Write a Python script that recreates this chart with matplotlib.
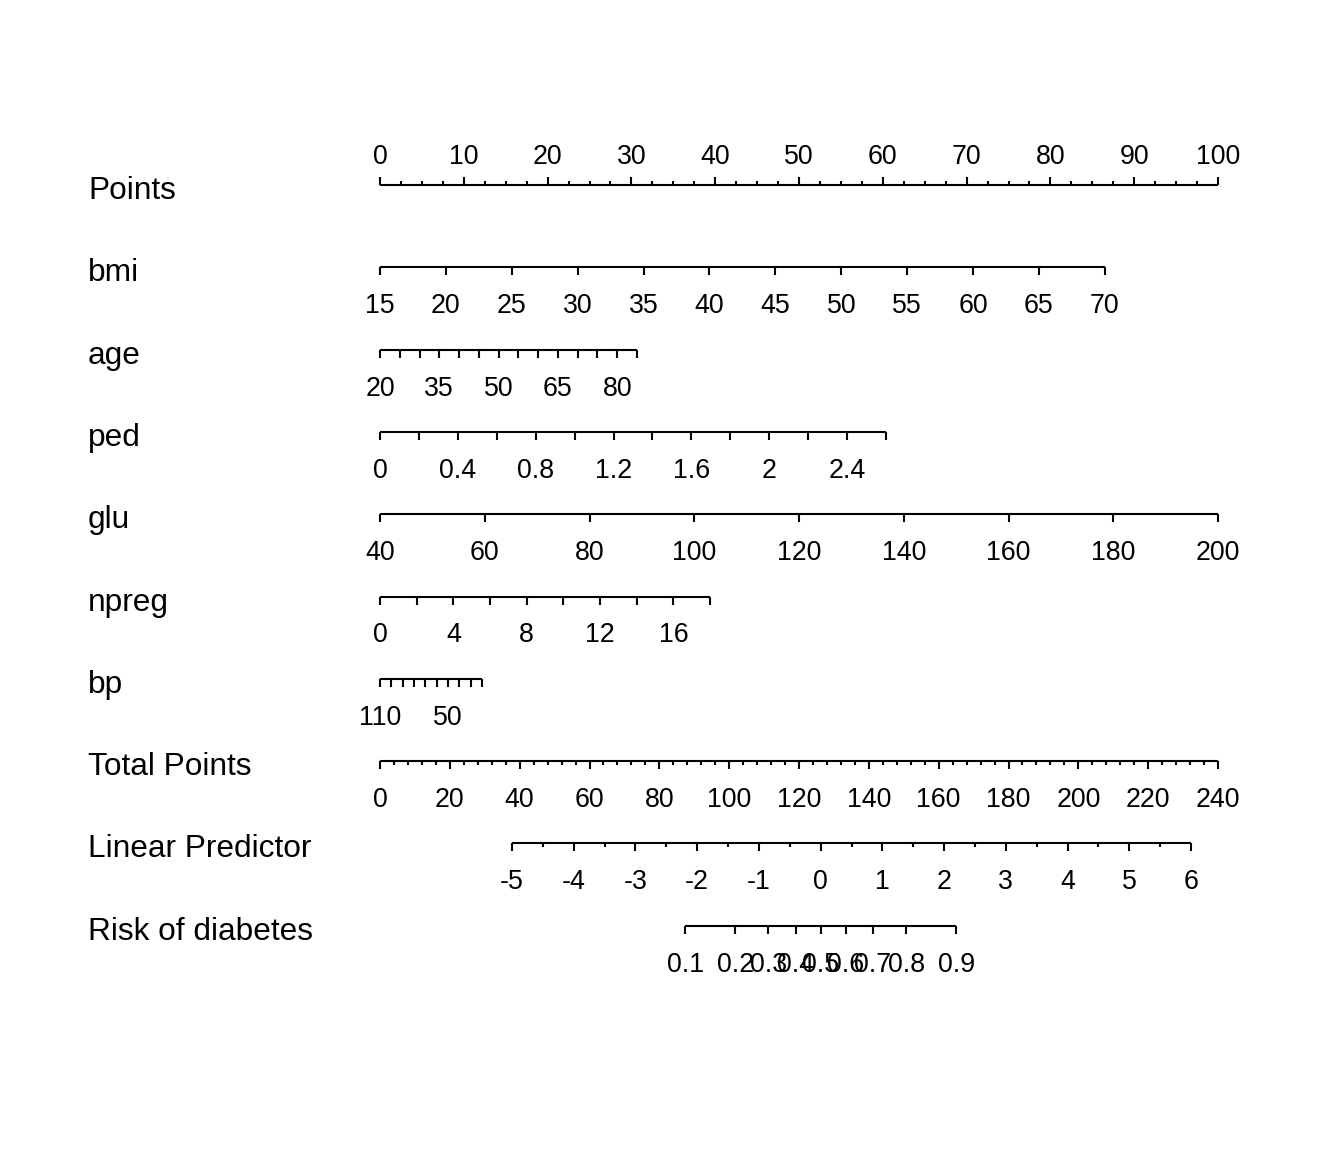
import numpy as np
import matplotlib
matplotlib.use("Agg")
import matplotlib.pyplot as plt

plt.rcParams['font.family'] = ['Liberation Sans', 'DejaVu Sans']

# ---- nomogram data ----
points_ticks = np.arange(0, 100.1, 2.5)
points_labels = np.arange(0, 101, 10)

bmi_ticks = np.arange(15, 71, 5)
bmi_labels = bmi_ticks
bmi_ref, bmi_slope = 15, 86.5 / 55

age_ticks = np.arange(20, 86, 5)
age_labels = np.array([20, 35, 50, 65, 80])
age_ref, age_slope = 20, 30.67 / 65

ped_ticks = np.round(np.arange(0, 2.61, 0.2), 1)
ped_labels = np.array([0, 0.4, 0.8, 1.2, 1.6, 2, 2.4])
ped_ref, ped_slope = 0, 60.38 / 2.6

glu_ticks = np.arange(40, 201, 20)
glu_labels = glu_ticks
glu_ref, glu_slope = 40, 100 / 160

npreg_ticks = np.arange(0, 19, 2)
npreg_labels = np.array([0, 4, 8, 12, 16])
npreg_ref, npreg_slope = 0, 39.38 / 18

bp_ticks = np.arange(110, 19, -10)
bp_labels = np.array([110, 50])
bp_ref, bp_slope = 110, -12.17 / 90

total_ticks = np.arange(0, 241, 4)
total_labels = np.arange(0, 241, 20)
total_max = 240

lp_ticks = np.arange(-5, 6.01, 0.5)
lp_labels = np.arange(-5, 7, 1)
lp_at_tp, tp_lp_ref, tp_per_lp = -5, 37.8, 17.68

risk_ticks = np.round(np.arange(0.1, 0.91, 0.1), 1)
risk_labels = risk_ticks

names = ['Points', 'bmi', 'age', 'ped', 'glu', 'npreg', 'bp',
         'Total Points', 'Linear Predictor', 'Risk of diabetes']

# ---- layout (pixels) ----
W, H = 1344, 1152
x0_px, x100_px = 380, 1218
row0_px, row_gap = 185, 82.3
name_x_px = 88
NAME_FS = 22.8
TICK_FS = 19.3
LW = 1.5

fig = plt.figure(figsize=(W / 100, H / 100), dpi=100)
ax = fig.add_axes([0, 0, 1, 1])
pxpp = (x100_px - x0_px) / 100.0
ax.set_xlim(-x0_px / pxpp, (W - x0_px) / pxpp)
ax.set_ylim(H, 0)
ax.axis('off')


def fmt(v):
    s = ('%.2f' % v).rstrip('0').rstrip('.')
    return '0' if s == '-0' else s


def draw_scale(row, tick_pts, major_mask, label_pts, label_txt, above=False):
    y = row0_px + row * row_gap
    ax.plot([tick_pts.min(), tick_pts.max()], [y, y], color='black', lw=LW,
            solid_capstyle='butt')
    d = -1 if above else 1
    for p, m in zip(tick_pts, major_mask):
        ln = 8 if m else 4
        ax.plot([p, p], [y, y + d * ln], color='black', lw=LW, solid_capstyle='butt')
    ly = y - 21 if above else y + 46
    for p, t in zip(label_pts, label_txt):
        ax.text(p, ly, t, ha='center', va='baseline', fontsize=TICK_FS)
    ax.text(-(x0_px - name_x_px) / pxpp, y + 14, names[row], ha='left',
            va='baseline', fontsize=NAME_FS)


# Points
draw_scale(0, points_ticks, np.isclose(points_ticks % 10, 0),
           points_labels, [fmt(v) for v in points_labels], above=True)


def var_scale(row, ticks, labels, ref, slope):
    tp = (ticks - ref) * slope
    lp = (labels - ref) * slope
    draw_scale(row, tp, np.ones(len(ticks), bool), lp, [fmt(v) for v in labels])


var_scale(1, bmi_ticks, bmi_labels, bmi_ref, bmi_slope)
var_scale(2, age_ticks, age_labels, age_ref, age_slope)
var_scale(3, ped_ticks, ped_labels, ped_ref, ped_slope)
var_scale(4, glu_ticks, glu_labels, glu_ref, glu_slope)
var_scale(5, npreg_ticks, npreg_labels, npreg_ref, npreg_slope)
var_scale(6, bp_ticks, bp_labels, bp_ref, bp_slope)

# Total points
to_pts = 100.0 / total_max
draw_scale(7, total_ticks * to_pts, np.isclose(total_ticks % 20, 0),
           total_labels * to_pts, [fmt(v) for v in total_labels])


def lp_to_pts(lp):
    return (tp_lp_ref + (lp - lp_at_tp) * tp_per_lp) * to_pts


draw_scale(8, lp_to_pts(lp_ticks), np.isclose(lp_ticks % 1, 0),
           lp_to_pts(lp_labels), [fmt(v) for v in lp_labels])

risk_lp = np.log(risk_ticks / (1 - risk_ticks))
draw_scale(9, lp_to_pts(risk_lp), np.ones(len(risk_ticks), bool),
           lp_to_pts(np.log(risk_labels / (1 - risk_labels))),
           [fmt(v) for v in risk_labels])

fig.savefig('out.png', dpi=100)
